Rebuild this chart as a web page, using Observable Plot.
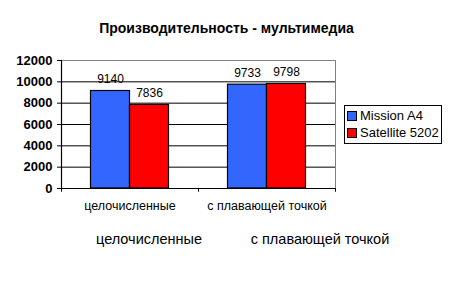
<!DOCTYPE html>
<html>
<head>
<meta charset="utf-8">
<script src="https://cdn.jsdelivr.net/npm/d3@7"></script>
<script src="https://cdn.jsdelivr.net/npm/@observablehq/plot@0.6"></script>
<style>
  body { margin: 0; background: #fff; }
  #wrap { position: relative; width: 450px; height: 293px; font-family: "Liberation Sans", Arial, sans-serif; }
  #legend { position: absolute; left: 344px; top: 105px; width: 98px; height: 39px; border: 1px solid #000; box-sizing: border-box; background: #fff; font-size: 13px; color: #000; }
  .item { position: absolute; left: 2px; display: flex; align-items: center; white-space: nowrap; }
  .sw { width: 8px; height: 8px; border: 1px solid #000; margin-right: 3px; }
</style>
</head>
<body>
<div id="wrap"></div>
<script>
const title = "Производительность - мультимедиа";
const categories = ["целочисленные", "с плавающей точкой"];
const seriesNames = ["Mission A4", "Satellite 5202"];
const missionA4 = [9140, 9733];
const satellite5202 = [7836, 9798];
const yTicks = [0, 2000, 4000, 6000, 8000, 10000, 12000];
const colors = ["#3366FF", "#FF0000"];

const rowsA = categories.map((c, i) => ({category: c, series: seriesNames[0], value: missionA4[i]}));
const rowsB = categories.map((c, i) => ({category: c, series: seriesNames[1], value: satellite5202[i]}));

const font = "Liberation Sans, Arial, sans-serif";

const chart = Plot.plot({
  width: 450,
  height: 293,
  marginTop: 60,
  marginBottom: 105,
  marginLeft: 61,
  marginRight: 115,
  style: {fontFamily: font, background: "white", color: "black"},
  x: {type: "band", domain: categories, padding: 0},
  y: {domain: [0, 12000]},
  marks: [
    Plot.frame({stroke: "#808080"}),
    Plot.ruleY(yTicks.slice(1, -1), {stroke: "black"}),
    Plot.barY(rowsA, {x: "category", y: "value", fill: colors[0], stroke: "black", strokeWidth: 1.2, insetLeft: 29.5, insetRight: 68.5}),
    Plot.barY(rowsB, {x: "category", y: "value", fill: colors[1], stroke: "black", strokeWidth: 1.2, insetLeft: 68.5, insetRight: 29.5}),
    Plot.text(rowsA, {x: "category", y: "value", text: d => String(d.value), dx: -19.5, dy: -12, fontSize: 12, fill: "black"}),
    Plot.text(rowsB, {x: "category", y: "value", text: d => String(d.value), dx: 19.5, dy: -12, fontSize: 12, fill: "black"}),
    Plot.ruleY([0], {stroke: "black", strokeWidth: 1.2}),
    Plot.frame({anchor: "left", stroke: "black", strokeWidth: 1.2}),
    Plot.ruleX(categories, {x: d => d, dx: -68.5, y1: 0, y2: -350, stroke: "black"}),
    Plot.ruleX(categories.slice(-1), {x: d => d, dx: 68.5, y1: 0, y2: -350, stroke: "black"}),
    Plot.axisY(yTicks, {tickSize: 4, tickPadding: 5, tickFormat: d => String(d), fontSize: 13, fontWeight: "bold", label: null}),
    Plot.axisX({tickSize: 0, tickPadding: 13, fontSize: 12.5, fontWeight: 500, label: null}),
    Plot.text(categories.slice(0, 1), {x: d => d, text: d => d, frameAnchor: "bottom", dy: 55, dx: 19, fontSize: 14.5, fill: "black"}),
    Plot.text(categories.slice(1), {x: d => d, text: d => d, frameAnchor: "bottom", dy: 55, dx: 53, fontSize: 14.5, fill: "black"}),
    Plot.text([title], {text: d => d, frameAnchor: "top", dx: 28, dy: -37, fontSize: 14, fontWeight: "bold", fill: "black"})
  ]
});

const wrap = document.getElementById("wrap");
wrap.appendChild(chart);

const legend = d3.select(wrap).append("div").attr("id", "legend");
seriesNames.forEach((name, i) => {
  const item = legend.append("div").attr("class", "item").style("top", (i === 0 ? 2 : 19) + "px");
  item.append("div").attr("class", "sw").style("background", colors[i]);
  item.append("span").text(name);
});
</script>
</body>
</html>
